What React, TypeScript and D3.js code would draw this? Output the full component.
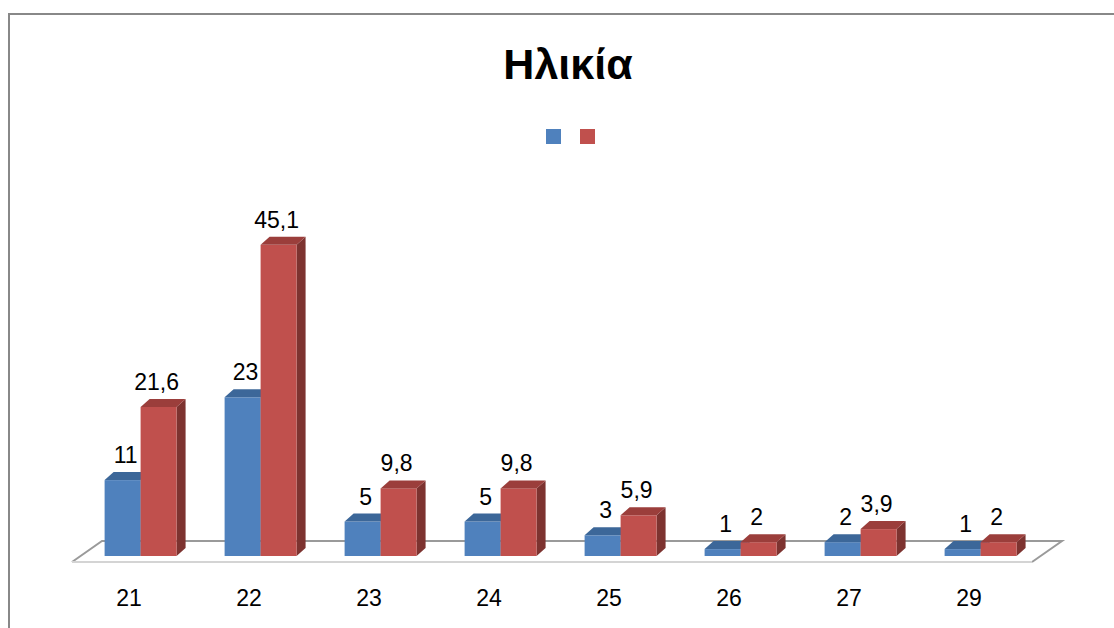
import React from "react";
import * as d3 from "d3";

const categories = ["21", "22", "23", "24", "25", "26", "27", "29"];
const seriesNames = ["A", "B"];
const seriesA = [11, 23, 5, 5, 3, 1, 2, 1];
const seriesB = [21.6, 45.1, 9.8, 9.8, 5.9, 2, 3.9, 2];
const labelsA = ["11", "23", "5", "5", "3", "1", "2", "1"];
const labelsB = ["21,6", "45,1", "9,8", "9,8", "5,9", "2", "3,9", "2"];
const title = "Ηλικία";

const W = 1114;
const H = 628;
const FONT = "'Liberation Sans', Arial, sans-serif";

const colors = {
  A: { front: "#4F81BD", top: "#3C6799", side: "#2F5583" },
  B: { front: "#C0504D", top: "#9B3E3B", side: "#7D3330" },
};

export default function App() {
  const floorFrontY = 562;
  const floorBackY = 541;
  const floorDx = 30;
  const x = d3.scaleBand<string>().domain(categories).range([72, 1032]).padding(0);
  const inner = d3
    .scaleBand<string>()
    .domain(seriesNames)
    .range([0, x.bandwidth()])
    .paddingInner(0)
    .paddingOuter(0.667);
  const baseY = 556;
  const shift = 8.6;
  const y = d3.scaleLinear().domain([0, 50]).range([baseY, baseY - 345]);
  const ddx = 9;
  const ddy = -8;
  const labelOffset = [3, -2];

  const bars: React.ReactNode[] = [];
  const labels: React.ReactNode[] = [];
  categories.forEach((c, i) => {
    const vals = [seriesA[i], seriesB[i]];
    const labs = [labelsA[i], labelsB[i]];
    seriesNames.forEach((s, j) => {
      const col = (colors as any)[s];
      const x0 = (x(c) as number) + (inner(s) as number) + shift;
      const w = inner.bandwidth();
      const yt = y(vals[j]);
      const top = `M${x0},${yt}L${x0 + ddx},${yt + ddy}L${x0 + w + ddx},${yt + ddy}L${x0 + w},${yt}Z`;
      const side = `M${x0 + w},${yt}L${x0 + w + ddx},${yt + ddy}L${x0 + w + ddx},${baseY + ddy}L${x0 + w},${baseY}Z`;
      bars.push(
        <g key={`${c}-${s}`}>
          <path d={side} fill={col.side} />
          <rect x={x0} y={yt} width={w} height={baseY - yt} fill={col.front} />
          <path d={top} fill={col.top} />
        </g>
      );
      labels.push(
        <text
          key={`l-${c}-${s}`}
          x={x0 + w / 2 + labelOffset[j]}
          y={yt - 17}
          textAnchor="middle"
          fontFamily={FONT}
          fontSize={23}
          fill="#000"
        >
          {labs[j]}
        </text>
      );
    });
  });

  const fl = 72;
  const fr = 1032;
  const floor = `M${fl},${floorFrontY}L${fl + floorDx},${floorBackY}L${fr + floorDx},${floorBackY}L${fr},${floorFrontY}`;

  return (
    <svg
      width={W}
      height={H}
      style={{ position: "absolute", left: 0, top: 0, background: "#fff" }}
    >
      <rect x={0} y={0} width={W} height={H} fill="#fff" />
      <rect x={9} y={14} width={1300} height={800} fill="none" stroke="#888" strokeWidth={2} />
      <text
        x={568}
        y={79}
        textAnchor="middle"
        fontFamily={FONT}
        fontWeight="bold"
        fontSize={43}
        fill="#000"
      >
        {title}
      </text>
      <rect x={546} y={129} width={15} height={15} fill={colors.A.front} />
      <rect x={580} y={129} width={15} height={15} fill={colors.B.front} />
      <path d={floor} fill="none" stroke="#9a9a9a" strokeWidth={2} />
      <line x1={fl} y1={floorFrontY} x2={fr} y2={floorFrontY} stroke="#d4d4d4" strokeWidth={2} />
      {bars}
      {labels}
      {categories.map((c) => (
        <text
          key={`c-${c}`}
          x={(x(c) as number) + x.bandwidth() / 2 - 3}
          y={606}
          textAnchor="middle"
          fontFamily={FONT}
          fontSize={23}
          fill="#000"
        >
          {c}
        </text>
      ))}
    </svg>
  );
}
